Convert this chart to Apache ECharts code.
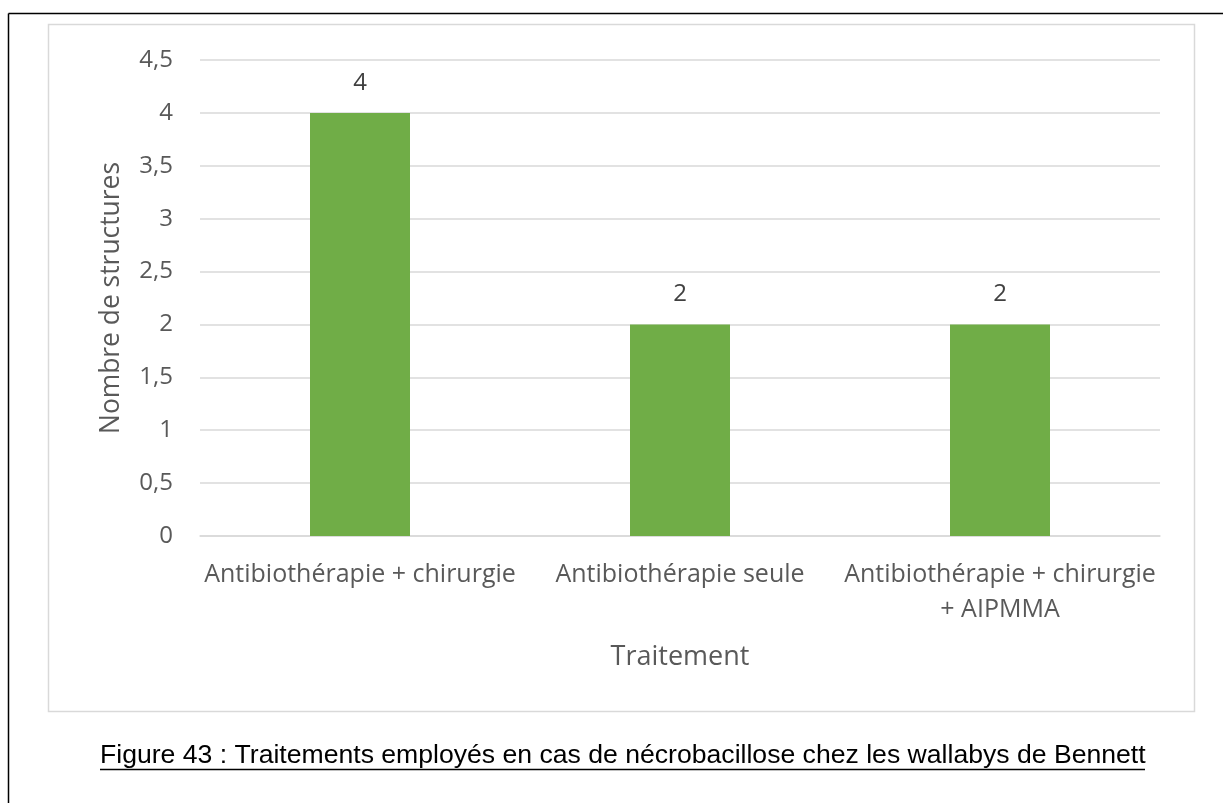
<!DOCTYPE html>
<html>
<head>
<meta charset="utf-8">
<script src="https://cdn.jsdelivr.net/npm/echarts@6/dist/echarts.min.js"></script>
<style>
  html, body { margin: 0; padding: 0; background: #fff; }
  #chart { width: 1223px; height: 803px; }
</style>
</head>
<body>
<div id="chart"></div>
<script>
// valeurs
const categories = ['Antibiothérapie + chirurgie', 'Antibiothérapie seule', 'Antibiothérapie + chirurgie\n+ AIPMMA']
const structures = [4, 2, 2]
const yTicks = { min: 0, max: 4.5, interval: 0.5 }
const yTitle = 'Nombre de structures'
const xTitle = 'Traitement'
const caption = 'Figure 43 : Traitements employés en cas de nécrobacillose chez les wallabys de Bennett'

const chart = echarts.init(document.getElementById('chart'))
const font = 'Open Sans'
const textGray = '#595959'
const gridGray = '#D9D9D9'

const options = {
  animation: false,
  textStyle: { fontFamily: font },
  graphic: [
    // cadre noir (seuls haut et gauche visibles)
    { type: 'line', shape: { x1: 8.5, y1: 13.5, x2: 1230, y2: 13.5 }, style: { stroke: '#000', lineWidth: 1.5 } },
    { type: 'line', shape: { x1: 8.5, y1: 13.5, x2: 8.5, y2: 810 }, style: { stroke: '#000', lineWidth: 1.5 } },
    // cadre gris du graphique
    { type: 'rect', shape: { x: 48.5, y: 24.5, width: 1146, height: 687 }, style: { fill: 'none', stroke: gridGray, lineWidth: 1.5 }, z: 0 },
    // légende de la figure, soulignée
    {
      type: 'text', left: 100, top: 742,
      style: { text: caption, font: '26.6px "Liberation Sans", Arial, sans-serif', fill: '#000' }
    },
    { type: 'line', shape: { x1: 100, y1: 769.5, x2: 1145, y2: 769.5 }, style: { stroke: '#000', lineWidth: 1.5 } }
  ],
  grid: {
    left: 200,
    right: 63,
    top: 60,
    bottom: 267,
    containLabel: false
  },
  xAxis: {
    type: 'category',
    data: categories,
    name: xTitle,
    nameLocation: 'middle',
    nameGap: 108,
    nameTextStyle: { color: textGray, fontSize: 27, fontFamily: font },
    axisTick: { show: false },
    axisLine: { lineStyle: { color: gridGray, width: 1.5 } },
    axisLabel: {
      interval: 0,
      color: textGray,
      fontSize: 25,
      fontFamily: font,
      margin: 21,
      lineHeight: 35
    }
  },
  yAxis: {
    type: 'value',
    min: yTicks.min,
    max: yTicks.max,
    interval: yTicks.interval,
    name: yTitle,
    nameLocation: 'middle',
    nameGap: 76,
    nameTextStyle: { color: textGray, fontSize: 26.4, fontFamily: font },
    axisLine: { show: false },
    axisTick: { show: false },
    splitLine: { lineStyle: { color: gridGray, width: 1.5 } },
    axisLabel: {
      color: textGray,
      fontSize: 24,
      fontFamily: font,
      margin: 27,
      formatter: v => String(v).replace('.', ',')
    }
  },
  series: [
    {
      type: 'bar',
      data: structures,
      barWidth: 100,
      itemStyle: { color: '#70AD47' },
      label: {
        show: true,
        position: 'top',
        distance: 18,
        color: '#404040',
        fontSize: 24,
        fontFamily: font
      }
    }
  ]
}
chart.setOption(options)
</script>
</body>
</html>
